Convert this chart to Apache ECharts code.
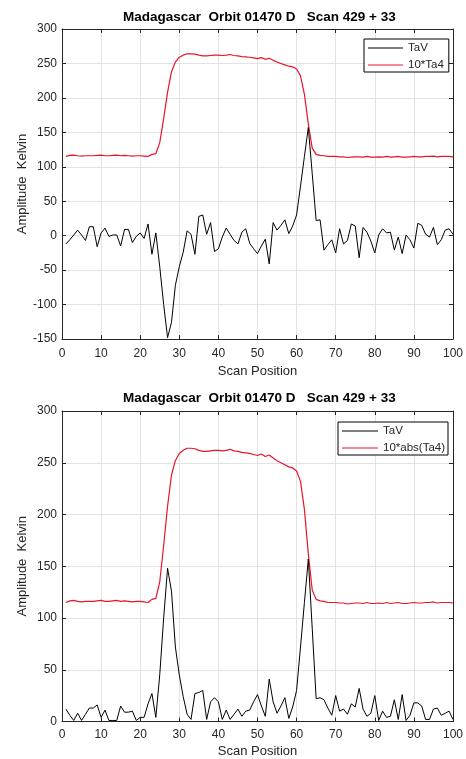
<!DOCTYPE html>
<html>
<head>
<meta charset="utf-8">
<script src="https://cdn.jsdelivr.net/npm/echarts@6/dist/echarts.min.js"></script>
<style>html,body{margin:0;padding:0;background:#fff}#c{width:466px;height:759px}</style>
</head>
<body>
<div id="c"></div>
<script>
var titleText = 'Madagascar  Orbit 01470 D   Scan 429 + 33';
var xTicks = [0, 10, 20, 30, 40, 50, 60, 70, 80, 90, 100];
var scanPos = [1,2,3,4,5,6,7,8,9,10,11,12,13,14,15,16,17,18,19,20,21,22,23,24,25,26,27,28,29,30,31,32,33,34,35,36,37,38,39,40,41,42,43,44,45,46,47,48,49,50,51,52,53,54,55,56,57,58,59,60,61,62,63,64,65,66,67,68,69,70,71,72,73,74,75,76,77,78,79,80,81,82,83,84,85,86,87,88,89,90,91,92,93,94,95,96,97,98,99,100];

// Top panel
var taVTop = [-12,-6,1,8,1,-7,13,13,-16,4, 11,-1,1,1,-15,9,9,-10,-1,4, -4,17,-27,4,-45,-100,-148,-126,-72,-45, -24,7,2,-27,28,30,2,19,-23,-19, -2,11,2,-7,-12,5,10,-11,-19,-26, -15,-5,-41,19,8,15,23,3,14,30, 72,115,157,90,22,23,-21,-13,-6,-25, 10,-12,-7,17,14,-32,12,5,-8,-25, 1,10,4,5,-21,-2,-26,1,-6,-18, 18,15,2,-2,12,-13,-6,8,10,2];
var ta4Top = [115,116.5,117,116,115.5,116,116,116,116.5,117, 116,116,116.5,117,116,116.5,116,115.5,116,116, 115.5,115,118,119,135,170,208,238,252,259, 262,264,264,263.5,262,261,261,261.5,262,262, 261.5,262,263,261.5,261,260,259.5,259,258,257, 258.5,256,257.5,254.5,252,250,248,246,245,242, 232,205,162,127,118,116.5,116,115,115,115, 114.5,114.5,113.5,114,114.5,114.5,114,115,114,114, 114.5,114,115,114,114.5,115,114,114,114.5,115, 114.5,114.5,115,115,115.5,114.5,115,115,115,114.5];
var yTicksTop = [-150, -100, -50, 0, 50, 100, 150, 200, 250, 300];

// Bottom panel
var taVBottom = [12,6,1,8,1,7,13,13,16,4, 11,1,1,1,15,9,9,10,1,4, 4,17,27,4,45,100,148,126,72,45, 24,7,2,27,28,30,2,19,23,19, 2,11,2,7,12,5,10,11,19,26, 15,5,41,19,8,15,23,3,14,30, 72,115,157,90,22,23,21,13,6,25, 10,12,7,17,14,32,12,5,8,25, 1,10,4,5,21,2,26,1,6,18, 18,15,2,2,12,13,6,8,10,2];
var ta4Bottom = [115,116.5,117,116,115.5,116,116,116,116.5,117, 116,116,116.5,117,116,116.5,116,115.5,116,116, 115.5,115,118,119,135,170,208,238,252,259, 262,264,264,263.5,262,261,261,261.5,262,262, 261.5,262,263,261.5,261,260,259.5,259,258,257, 258.5,256,257.5,254.5,252,250,248,246,245,242, 232,205,162,127,118,116.5,116,115,115,115, 114.5,114.5,113.5,114,114.5,114.5,114,115,114,114, 114.5,114,115,114,114.5,115,114,114,114.5,115, 114.5,114.5,115,115,115.5,114.5,115,115,115,114.5];
var yTicksBottom = [0, 50, 100, 150, 200, 250, 300];

function pairs(xs, ys) { return xs.map(function (x, i) { return [x, ys[i]]; }); }

var FONT = '"Liberation Sans", Arial, sans-serif';
var AX = '#262626';
var GRIDC = '#e3e3e3';

function xAxisMain(gi, labelMargin, nameGap) {
  return {
    type: 'value', gridIndex: gi, min: xTicks[0], max: xTicks[xTicks.length - 1], interval: 10,
    name: 'Scan Position', nameLocation: 'middle', nameGap: nameGap, nameMoveOverlap: false,
    nameTextStyle: { fontFamily: FONT, fontSize: 13, color: AX },
    axisLine: { show: true, onZero: false, lineStyle: { color: AX, width: 1 } },
    axisTick: { show: true, inside: true, length: 4, lineStyle: { color: AX } },
    axisLabel: { show: true, margin: labelMargin, fontFamily: FONT, fontSize: 12, color: AX },
    splitLine: { show: true, lineStyle: { color: GRIDC, width: 1 } }
  };
}
function xAxisTop(gi) {
  return {
    type: 'value', gridIndex: gi, position: 'top', min: xTicks[0], max: xTicks[xTicks.length - 1], interval: 10,
    axisLine: { show: true, onZero: false, lineStyle: { color: AX, width: 1 } },
    axisTick: { show: true, inside: true, length: 4, lineStyle: { color: AX } },
    axisLabel: { show: false }, splitLine: { show: false }
  };
}
function yAxisMain(gi, ticks) {
  return {
    type: 'value', gridIndex: gi, min: ticks[0], max: ticks[ticks.length - 1], interval: 50,
    name: 'Amplitude  Kelvin', nameLocation: 'middle', nameGap: 33, nameMoveOverlap: false,
    nameTextStyle: { fontFamily: FONT, fontSize: 13, color: AX },
    axisLine: { show: true, onZero: false, lineStyle: { color: AX, width: 1 } },
    axisTick: { show: true, inside: true, length: 4, lineStyle: { color: AX } },
    axisLabel: { show: true, margin: 5, fontFamily: FONT, fontSize: 12, color: AX },
    splitLine: { show: true, lineStyle: { color: GRIDC, width: 1 } }
  };
}
function yAxisRight(gi, ticks) {
  return {
    type: 'value', gridIndex: gi, position: 'right', min: ticks[0], max: ticks[ticks.length - 1], interval: 50,
    axisLine: { show: true, onZero: false, lineStyle: { color: AX, width: 1 } },
    axisTick: { show: true, inside: true, length: 4, lineStyle: { color: AX } },
    axisLabel: { show: false }, splitLine: { show: false }
  };
}

var chart = echarts.init(document.getElementById('c'), null, { renderer: 'canvas' });
chart.setOption({
  backgroundColor: '#ffffff',
  animation: false,
  title: [
    { text: titleText, left: 123, top: 10, padding: 0, textStyle: { fontFamily: FONT, fontSize: 13.5, fontWeight: 'bold', color: '#000' } },
    { text: titleText, left: 123, top: 391, padding: 0, textStyle: { fontFamily: FONT, fontSize: 13.5, fontWeight: 'bold', color: '#000' } }
  ],
  legend: [
    { data: ['TaV', '10*Ta4'], orient: 'vertical', left: 364, top: 39, padding: [3, 5, 1, 4], itemGap: 5,
      icon: 'rect', itemWidth: 35, itemHeight: 1, itemStyle: { borderWidth: 0 },
      backgroundColor: '#fff', borderColor: '#000', borderWidth: 1, borderRadius: 0,
      textStyle: { fontFamily: FONT, fontSize: 11.5, color: AX, lineHeight: 12 } },
    { data: ['TaV', '10*abs(Ta4)'], orient: 'vertical', left: 338, top: 422, padding: [3, 3, 1, 4], itemGap: 5,
      icon: 'rect', itemWidth: 36, itemHeight: 1, itemStyle: { borderWidth: 0 },
      backgroundColor: '#fff', borderColor: '#000', borderWidth: 1, borderRadius: 0,
      textStyle: { fontFamily: FONT, fontSize: 11.5, color: AX, lineHeight: 12 } }
  ],
  grid: [
    { left: 62, right: 9, top: 29, height: 310 },
    { left: 62, right: 9, top: 411, height: 311 }
  ],
  xAxis: [xAxisMain(0, 9, 26), xAxisTop(0), xAxisMain(1, 7, 23.5), xAxisTop(1)],
  yAxis: [yAxisMain(0, yTicksTop), yAxisRight(0, yTicksTop), yAxisMain(1, yTicksBottom), yAxisRight(1, yTicksBottom)],
  series: [
    { name: 'TaV', type: 'line', xAxisIndex: 0, yAxisIndex: 0, data: pairs(scanPos, taVTop), showSymbol: false, symbol: 'none',
      lineStyle: { color: '#000', width: 1 }, itemStyle: { color: '#000' }, z: 3 },
    { name: '10*Ta4', type: 'line', xAxisIndex: 0, yAxisIndex: 0, data: pairs(scanPos, ta4Top), showSymbol: false, symbol: 'none',
      lineStyle: { color: '#e8142a', width: 1.2 }, itemStyle: { color: '#e8142a' }, z: 2 },
    { name: 'TaV', type: 'line', xAxisIndex: 2, yAxisIndex: 2, data: pairs(scanPos, taVBottom), showSymbol: false, symbol: 'none',
      lineStyle: { color: '#000', width: 1 }, itemStyle: { color: '#000' }, z: 3 },
    { name: '10*abs(Ta4)', type: 'line', xAxisIndex: 2, yAxisIndex: 2, data: pairs(scanPos, ta4Bottom), showSymbol: false, symbol: 'none',
      lineStyle: { color: '#e8142a', width: 1.2 }, itemStyle: { color: '#e8142a' }, z: 2 }
  ]
});
</script>
</body>
</html>
